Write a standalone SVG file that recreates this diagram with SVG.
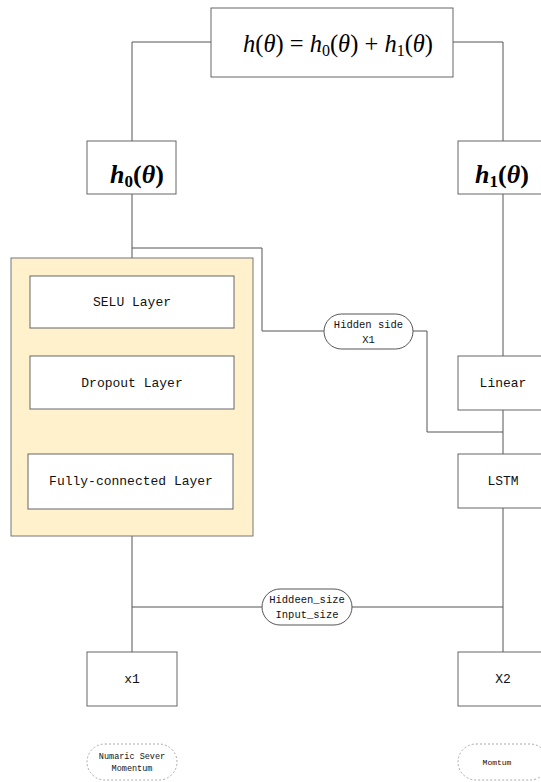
<svg xmlns="http://www.w3.org/2000/svg" width="541" height="782" viewBox="0 0 541 782">
<style>
.box{fill:#fff;stroke:#666;stroke-width:1}
.grp{fill:#fff1cc;stroke:#777;stroke-width:1}
.pill{fill:#fff;stroke:#555;stroke-width:1}
.dpill{fill:#fff;stroke:#aaa;stroke-width:1;stroke-dasharray:2 2}
.conn{fill:none;stroke:#555;stroke-width:1}
.lbl{font-family:"Liberation Mono",monospace;fill:#111;text-anchor:middle}
.math{font-family:"Liberation Serif",serif;fill:#000;text-anchor:middle}
.it{font-style:italic}
</style>
<rect width="541" height="782" fill="#fff"/>
<g id="connectors">
<polyline class="conn" points="211,42 132,42 132,141"/>
<polyline class="conn" points="453,42 503,42 503,141"/>
<line class="conn" x1="132" y1="194" x2="132" y2="258"/>
<polyline class="conn" points="132,248 262,248 262,331 324,331"/>
<polyline class="conn" points="413,331 427,331 427,432 503,432"/>
<line class="conn" x1="503" y1="194" x2="503" y2="356"/>
<line class="conn" x1="503" y1="410" x2="503" y2="454"/>
<line class="conn" x1="503" y1="508" x2="503" y2="652"/>
<line class="conn" x1="132" y1="536" x2="132" y2="652"/>
<line class="conn" x1="132" y1="607" x2="262" y2="607"/>
<line class="conn" x1="352" y1="607" x2="503" y2="607"/>
</g>
<g id="top">
<rect class="box" x="211" y="8" width="242" height="69"/>
<text class="math" x="338" y="52" font-size="24.5"><tspan class="it">h</tspan>(<tspan class="it">θ</tspan>) = <tspan class="it">h</tspan><tspan font-size="16" dy="4">0</tspan><tspan dy="-4">(</tspan><tspan class="it">θ</tspan>) + <tspan class="it">h</tspan><tspan font-size="16" dy="4">1</tspan><tspan dy="-4">(</tspan><tspan class="it">θ</tspan>)</text>
</g>
<g id="h0">
<rect class="box" x="87" y="141" width="89" height="53"/>
<text class="math" x="137" y="183" font-size="26" font-weight="bold"><tspan class="it">h</tspan><tspan font-size="17" dy="4">0</tspan><tspan dy="-4">(</tspan><tspan class="it">θ</tspan>)</text>
</g>
<g id="h1">
<rect class="box" x="458" y="141" width="90" height="53"/>
<text class="math" x="475" y="183" font-size="26" font-weight="bold" style="text-anchor:start"><tspan class="it">h</tspan><tspan font-size="17" dy="4">1</tspan><tspan dy="-4">(</tspan><tspan class="it">θ</tspan>)</text>
</g>
<g id="group">
<rect class="grp" x="11" y="258" width="242" height="278"/>
</g>
<g id="selu">
<rect class="box" x="30" y="276" width="204" height="52"/>
<text class="lbl" x="132" y="306" font-size="13">SELU Layer</text>
</g>
<g id="dropout">
<rect class="box" x="30" y="356" width="204" height="53"/>
<text class="lbl" x="132" y="387" font-size="13">Dropout Layer</text>
</g>
<g id="fc">
<rect class="box" x="28" y="454" width="205" height="55"/>
<text class="lbl" x="131" y="485" font-size="13">Fully-connected Layer</text>
</g>
<g id="hidden">
<rect class="pill" x="324" y="314" width="89" height="35" rx="17.5"/>
<text class="lbl" x="368.5" y="328" font-size="10.5">Hidden side</text>
<text class="lbl" x="368.5" y="343" font-size="10.5">X1</text>
</g>
<g id="linear">
<rect class="box" x="458" y="356" width="90" height="54"/>
<text class="lbl" x="503" y="387" font-size="13">Linear</text>
</g>
<g id="lstm">
<rect class="box" x="458" y="454" width="90" height="54"/>
<text class="lbl" x="503" y="485" font-size="13">LSTM</text>
</g>
<g id="sizes">
<rect class="pill" x="262" y="589" width="90" height="36" rx="18"/>
<text class="lbl" x="307" y="603" font-size="10.5">Hiddeen_size</text>
<text class="lbl" x="307" y="618" font-size="10.5">Input_size</text>
</g>
<g id="x1">
<rect class="box" x="87" y="652" width="90" height="54"/>
<text class="lbl" x="132" y="683" font-size="13">x1</text>
</g>
<g id="x2">
<rect class="box" x="458" y="652" width="90" height="54"/>
<text class="lbl" x="503" y="683" font-size="13">X2</text>
</g>
<g id="numaric">
<rect class="dpill" x="87" y="744" width="90" height="36" rx="18"/>
<text class="lbl" x="132" y="759" font-size="8.5">Numaric Sever</text>
<text class="lbl" x="132" y="771" font-size="8.5">Momentum</text>
</g>
<g id="momtum">
<rect class="dpill" x="458" y="744" width="90" height="36" rx="18"/>
<text class="lbl" x="497" y="765" font-size="8">Momtum</text>
</g>
</svg>
